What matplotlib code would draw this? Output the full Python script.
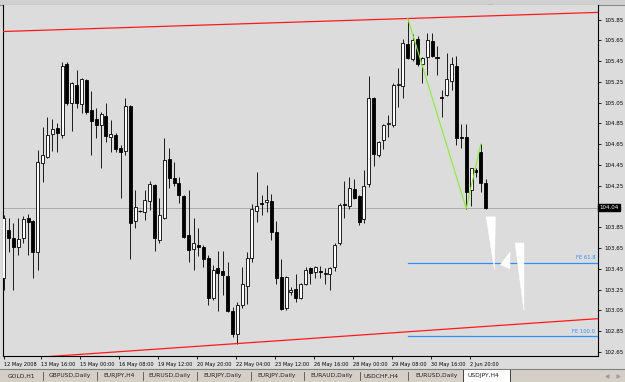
import matplotlib
matplotlib.use("Agg")
import matplotlib.pyplot as plt
from matplotlib.patches import Polygon, Rectangle
import numpy as np

# USDJPY H4 candles, 12 May 2008 08:00 onwards
opens = [103.36, 103.82, 103.75, 103.66, 103.75, 103.94, 103.91, 103.61, 104.47, 104.53,
         104.75, 104.81, 104.74, 105.42, 105.05, 105.22, 105.04, 105.27, 104.98, 104.89,
         104.83, 104.92, 104.72, 104.74, 104.61, 104.58, 105.02, 103.91, 104.01, 104.00,
         104.10, 104.26, 103.73, 103.94, 104.51, 104.32, 104.28, 104.15, 103.78, 103.64,
         103.68, 103.66, 103.55, 103.17, 103.46, 103.43, 103.38, 103.04, 102.82, 103.10,
         103.28, 103.55, 104.01, 104.08, 104.09, 104.10, 103.80, 103.37, 103.07, 103.23,
         103.26, 103.17, 103.30, 103.46, 103.42, 103.43, 103.40, 103.40, 103.47, 103.70,
         104.07, 104.05, 104.22, 104.15, 103.93, 104.27, 105.09, 104.55, 104.69, 104.84,
         104.83, 105.22, 105.21, 105.61, 105.47, 105.66, 105.42, 105.49, 105.64, 105.49,
         105.10, 105.12, 105.26, 105.40, 104.72, 104.72, 104.21, 104.40, 104.57, 104.28]
highs = [103.97, 103.94, 103.89, 103.94, 103.96, 103.98, 103.92, 104.59, 104.82, 104.91,
         104.89, 104.85, 105.44, 105.44, 105.25, 105.36, 105.29, 105.28, 105.16, 105.00,
         104.96, 105.05, 104.88, 104.76, 104.64, 105.09, 105.03, 104.21, 104.02, 104.21,
         104.30, 104.27, 104.13, 104.71, 104.61, 104.48, 104.33, 104.16, 104.21, 103.94,
         103.84, 103.68, 103.58, 103.49, 103.62, 103.62, 103.52, 103.08, 103.13, 103.47,
         103.61, 104.07, 104.38, 104.16, 104.26, 104.17, 103.91, 103.54, 103.38, 103.27,
         103.40, 103.31, 103.47, 103.47, 103.48, 103.48, 103.46, 103.47, 103.70, 104.08,
         104.30, 104.33, 104.31, 104.16, 104.40, 105.31, 105.10, 104.68, 104.84, 104.93,
         105.24, 105.38, 105.66, 105.86, 105.71, 105.69, 105.49, 105.72, 105.72, 105.60,
         105.17, 105.53, 105.49, 105.50, 104.84, 104.84, 104.42, 104.42, 104.65, 104.31]
lows = [103.25, 103.61, 103.25, 103.58, 103.70, 103.58, 103.36, 103.44, 104.29, 104.52,
        104.58, 104.57, 104.71, 105.03, 104.78, 105.00, 104.95, 104.94, 104.55, 104.71,
        104.42, 104.67, 104.57, 104.57, 104.13, 104.55, 103.54, 103.84, 104.00, 103.92,
        104.02, 103.62, 103.70, 103.93, 104.23, 104.25, 104.08, 103.75, 103.52, 103.44,
        103.57, 103.47, 103.10, 103.15, 103.04, 103.20, 103.03, 102.79, 102.73, 103.07,
        103.11, 103.52, 103.90, 103.97, 104.00, 103.73, 103.30, 103.05, 103.05, 103.20,
        103.13, 103.16, 103.29, 103.30, 103.36, 103.36, 103.30, 103.25, 103.43, 103.68,
        103.94, 104.03, 104.12, 103.87, 103.89, 104.24, 104.44, 104.53, 104.60, 104.72,
        104.82, 105.01, 105.09, 105.47, 105.45, 105.40, 105.24, 105.32, 105.49, 105.32,
        104.91, 105.11, 105.17, 104.64, 104.61, 104.03, 104.05, 104.33, 104.19, 104.03]
closes = [103.94, 103.75, 103.66, 103.74, 103.93, 103.90, 103.61, 104.48, 104.55, 104.74,
          104.80, 104.76, 105.40, 105.05, 105.24, 105.05, 105.28, 104.96, 104.87, 104.83,
          104.94, 104.73, 104.75, 104.60, 104.57, 105.02, 103.89, 104.04, 104.01, 104.11,
          104.27, 103.75, 103.97, 104.50, 104.32, 104.28, 104.16, 103.76, 103.63, 103.70,
          103.66, 103.54, 103.17, 103.44, 103.41, 103.39, 103.04, 102.82, 103.10, 103.30,
          103.55, 104.03, 104.05, 104.07, 104.11, 103.80, 103.36, 103.06, 103.37, 103.25,
          103.17, 103.30, 103.44, 103.41, 103.47, 103.42, 103.41, 103.46, 103.68, 104.06,
          104.06, 104.23, 104.13, 103.90, 104.25, 105.09, 104.56, 104.67, 104.83, 104.85,
          105.22, 105.23, 105.62, 105.48, 105.65, 105.42, 105.48, 105.65, 105.50, 105.48,
          105.09, 105.28, 105.42, 104.71, 104.71, 104.19, 104.42, 104.38, 104.28, 104.04]

last_price = 104.04
ytick_vals = [105.85, 105.65, 105.45, 105.25, 105.05, 104.85, 104.65, 104.45, 104.25,
              103.85, 103.65, 103.45, 103.25, 103.05, 102.85, 102.65]

date_ticks = [0, 8, 16, 24, 32, 40, 48, 56, 64, 72, 80, 88, 96]
date_labels = ["12 May 2008", "13 May 16:00", "15 May 00:00", "16 May 08:00", "19 May 12:00",
               "20 May 20:00", "22 May 04:00", "23 May 12:00", "26 May 16:00", "28 May 00:00",
               "29 May 08:00", "30 May 16:00", "2 Jun 20:00"]

# trend channel lines: (bar, price) anchor pairs
upper_line = [(0, 105.735), (83, 105.86)]
lower_line = [(48, 102.73), (120, 102.963)]

# zigzag swing points and the Fibonacci expansion levels
zigzag_bars = [83, 95, 98]
zigzag_prices = [105.86, 104.03, 104.65]
fe_levels = [(103.51, "FE 61.8"), (102.80, "FE 100.0")]
fe_start = 83

# white arrow shapes to the right of the last bar
white_shapes = [
    [(99.1, 103.95), (101.0, 103.95), (100.8, 103.44)],
    [(102.0, 103.49), (104.0, 103.61), (104.0, 103.45)],
    [(105.1, 103.70), (106.9, 103.70), (106.9, 103.04)],
]

tabs = ["GOLD,H1", "GBPUSD,Daily", "EURJPY,H4", "EURUSD,Daily", "EURJPY,Daily",
        "EURJPY,Daily", "EURAUD,Daily", "USDCHF,H4", "EURUSD,Daily", "USDJPY,H4"]
tab_x = [8, 49, 103, 148, 203, 257, 310, 364, 415, 468]
sep_x = [43, 97, 143, 197, 251, 304, 360, 408]

chart_bg = "#dcdcdc"

fig = plt.figure(figsize=(6.25, 3.82), dpi=100)
fig.patch.set_facecolor(chart_bg)

# window chrome in pixel coordinates
bg = fig.add_axes([0, 0, 1, 1])
bg.set_xlim(0, 625)
bg.set_ylim(382, 0)
bg.axis("off")
bg.add_patch(Rectangle((0, 0), 625, 4.5, facecolor="#d0d0d0", edgecolor="none"))
bg.plot([0, 625], [4.5, 4.5], color="#8a8a8a", lw=0.8)
bg.plot([490], [6.5], marker="v", ms=3, color="#909090")
bg.add_patch(Rectangle((0, 368.5), 625, 14, facecolor="#d4d0c8", edgecolor="none"))
bg.plot([0, 625], [368.5, 368.5], color="#808080", lw=0.8)
for sx in sep_x:
    bg.plot([sx, sx], [372, 380], color="#505050", lw=0.6)
bg.add_patch(Rectangle((463, 369), 47, 14, facecolor="white", edgecolor="#404040", lw=0.7))
for name, tx in zip(tabs, tab_x):
    bg.text(tx, 376, name, fontsize=4.3, color="#202020", va="center", ha="left")
bg.plot([607], [376], marker="<", ms=2.2, color="#a0a0a0")
bg.plot([618], [376], marker=">", ms=2.2, color="#a0a0a0")

ax = fig.add_axes([3 / 625, 26 / 382, 595 / 625, 351 / 382])
ax.set_facecolor(chart_bg)
ax.set_xlim(-0.14, 122.07)
ax.set_ylim(102.61, 105.99)

x = np.arange(len(opens))
o = np.array(opens)
c = np.array(closes)
h = np.array(highs)
l = np.array(lows)
up = c > o
down = c < o
doji = c == o
lo_body = np.minimum(o, c)
hgt = np.maximum(np.abs(c - o), 0.008)

ax.axhline(last_price, color="#ababab", lw=0.7, zorder=1)
ax.vlines(x, l, h, color="#1a1a1a", lw=0.7, zorder=2)
ax.bar(x[up], hgt[up], bottom=lo_body[up], width=0.62, facecolor="white",
       edgecolor="black", lw=0.6, zorder=3)
ax.bar(x[down], hgt[down], bottom=lo_body[down], width=0.62, facecolor="black",
       edgecolor="black", lw=0.6, zorder=3)
ax.hlines(o[doji], x[doji] - 0.31, x[doji] + 0.31, color="black", lw=0.8, zorder=3)

# channel lines, extended across the chart
xs = np.array([-1, 123])
for (b0, p0), (b1, p1) in [upper_line, lower_line]:
    k = (p1 - p0) / (b1 - b0)
    ax.plot(xs, p0 + k * (xs - b0), color="#ff1a1a", lw=0.9, zorder=4)

ax.plot(zigzag_bars, zigzag_prices, color="#86f02a", lw=0.8, zorder=4)

for lvl, txt in fe_levels:
    ax.plot([fe_start, 122.07], [lvl, lvl], color="#2f8fff", lw=0.9, zorder=4)
    ax.text(121.5, lvl + 0.025, txt, fontsize=3.8, color="#2f8fff", ha="right", va="bottom")

for shp in white_shapes:
    ax.add_patch(Polygon(shp, closed=True, facecolor="white", edgecolor="white", lw=0.3, zorder=4))

for side in ["left", "bottom", "right"]:
    ax.spines[side].set_color("black")
    ax.spines[side].set_linewidth(0.8)
ax.spines["top"].set_visible(False)

ax.yaxis.tick_right()
ax.set_yticks(ytick_vals)
ax.set_yticklabels([f"{v:.2f}" for v in ytick_vals])
ax.tick_params(axis="y", labelsize=4, length=2.5, width=0.6, pad=2, colors="black")

ax.set_xticks([t - 0.3 if t else 0 for t in date_ticks])
ax.set_xticklabels(date_labels, ha="left")
ax.tick_params(axis="x", labelsize=3.6, length=2.5, width=0.6, pad=1.5, colors="black")

ax.text(1.003, last_price, f"{last_price:.2f}", transform=ax.get_yaxis_transform(),
        fontsize=4, color="white", ha="left", va="center", zorder=6,
        bbox=dict(boxstyle="square,pad=0.25", facecolor="black", edgecolor="black"))

fig.savefig("out.png", dpi=100, facecolor=fig.get_facecolor())
